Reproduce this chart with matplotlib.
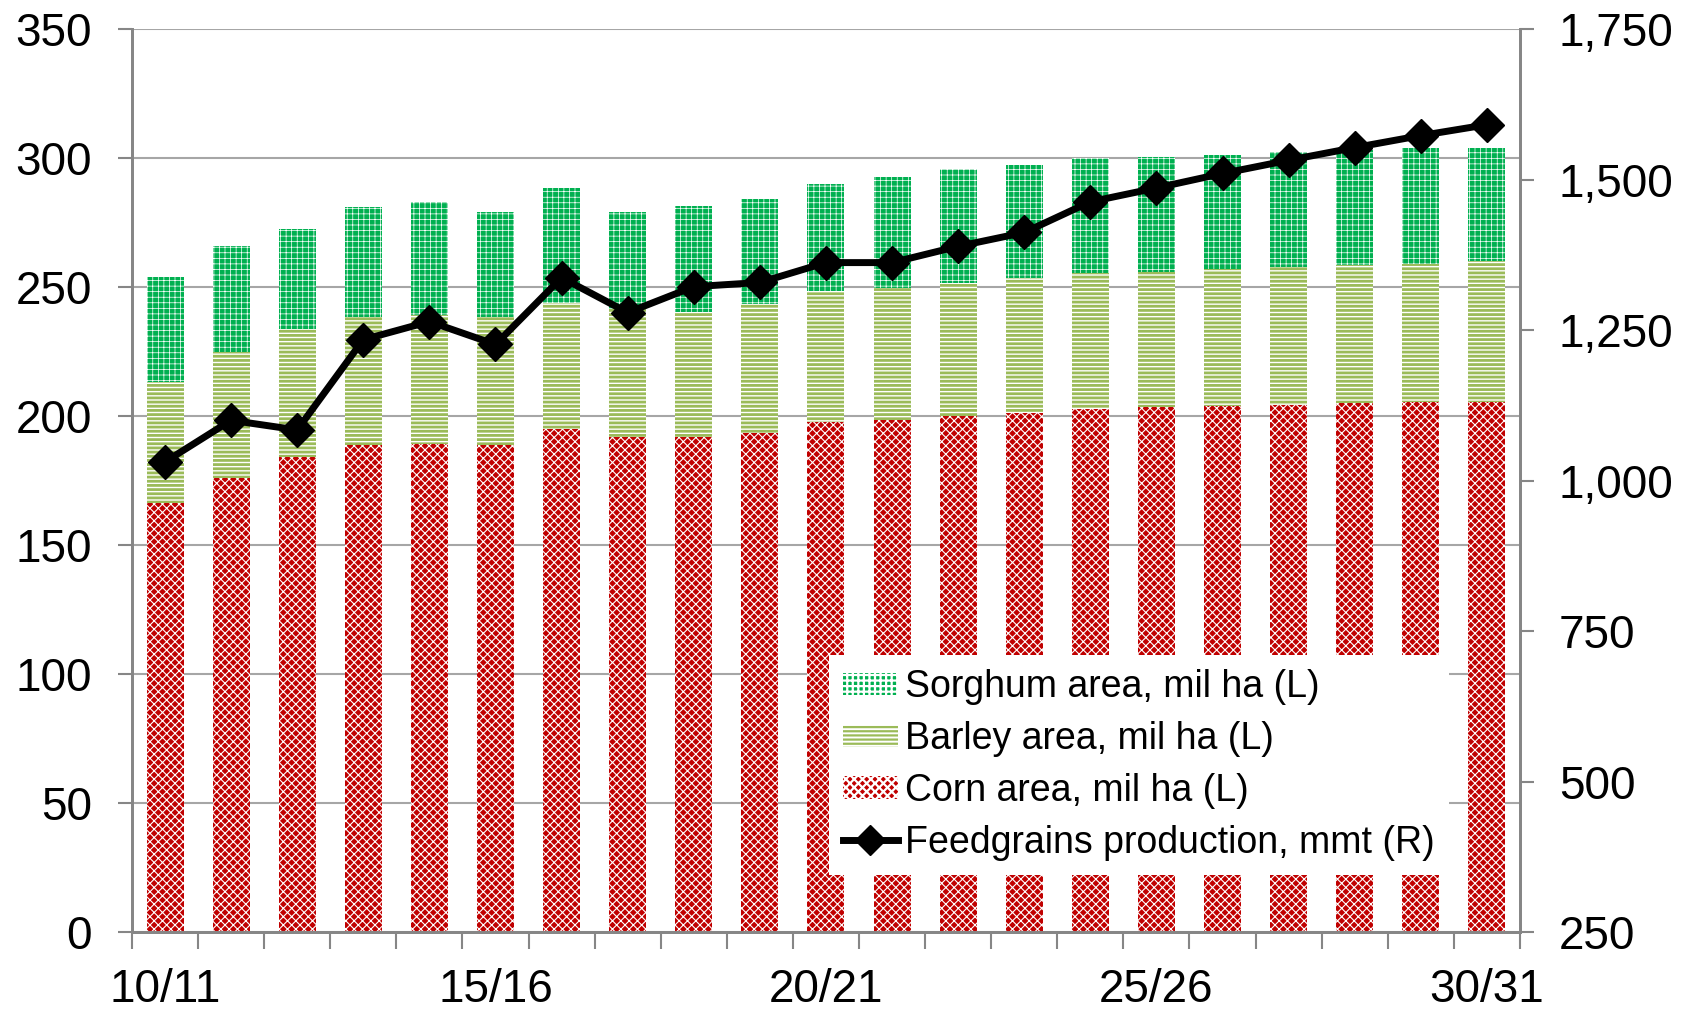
import numpy as np
import matplotlib
matplotlib.use("Agg")
import matplotlib.pyplot as plt
from matplotlib.patches import Patch
from matplotlib.lines import Line2D

plt.rcParams['font.family'] = ['Liberation Sans', 'DejaVu Sans']
plt.rcParams['hatch.linewidth'] = 1.6

# Marketing years 10/11 .. 30/31
years = [f"{y % 100:02d}/{(y + 1) % 100:02d}" for y in range(2010, 2031)]

# Left axis values (mil ha)
corn = [166.4, 176, 184, 188.7, 189, 188.7, 195, 191.7, 192, 193.3, 197.5,
        198.4, 200, 201, 202.6, 203.5, 204, 204.3, 205, 205.5, 205.5]
barley = [46.6, 49, 49.8, 49.7, 50, 49.7, 49, 49.7, 48.5, 50.2, 51,
          51.4, 51.5, 52.6, 52.7, 52.5, 53, 53.5, 53.6, 53.5, 54.5]
sorghum = [41, 40.8, 38.7, 42.6, 44, 40.5, 44.5, 37.5, 40.9, 40.8, 41.3,
           43, 44.2, 43.8, 44.7, 44.3, 44, 44.6, 44.7, 44.7, 44]

# Right axis values (mmt)
production = [1031, 1100, 1084, 1234, 1264, 1226, 1337, 1279, 1322, 1329, 1362,
              1362, 1389, 1412, 1463, 1486, 1510, 1532, 1553, 1573, 1591]

CORN_C = '#C00000'
SORG_C = '#00B050'
BARL_C = '#9BBB59'
AXIS_C = '#868686'


def thin_hatch(patches, lw):
    # fine patterns need their own hatch stroke width
    for p in patches:
        if hasattr(p, 'set_hatch_linewidth'):
            p.set_hatch_linewidth(lw)


x = np.arange(len(years))
corn_a = np.array(corn)
barley_a = np.array(barley)
sorghum_a = np.array(sorghum)

fig = plt.figure(figsize=(17.03, 10.11), dpi=100)
ax = fig.add_axes([0.0775, 0.0781, 0.815, 0.8932])
ax2 = ax.twinx()

w = 0.56
b1 = ax.bar(x, corn_a, w, facecolor=CORN_C, edgecolor='white', linewidth=0, hatch='xxxx')
b2 = ax.bar(x, barley_a, w, bottom=corn_a, facecolor='white', edgecolor=BARL_C,
            linewidth=0, hatch='----')
b3 = ax.bar(x, sorghum_a, w, bottom=corn_a + barley_a, facecolor=SORG_C, edgecolor='white',
            linewidth=0, hatch='+++')
thin_hatch(b1, 0.8)
thin_hatch(b2, 2.0)
thin_hatch(b3, 0.5)

ax2.plot(x, production, color='black', lw=5, marker='D', ms=17)

# left axis
ax.set_xlim(-0.5, len(years) - 0.5)
ax.set_ylim(0, 350)
ax.set_yticks(np.arange(0, 351, 50))
ax.yaxis.grid(True, color='#A6A6A6', lw=1.5)
ax.set_axisbelow(True)
ax.tick_params(axis='y', labelsize=33, length=10, width=1.5, color=AXIS_C, pad=19)

# right axis
ax2.set_ylim(250, 1750)
ax2.set_yticks(np.arange(250, 1751, 250))
ax2.set_yticklabels([f"{v:,}" for v in range(250, 1751, 250)])
ax2.tick_params(axis='y', labelsize=33, length=10, width=1.5, color=AXIS_C, pad=18)

# x axis: ticks between categories, labels every 5th year
ax.set_xticks(np.arange(-0.5, len(years), 1))
ax.set_xticklabels([])
ax.tick_params(axis='x', which='major', length=12, width=1.5, color=AXIS_C)
ax.set_xticks(x[::5], minor=True)
ax.set_xticklabels(years[::5], minor=True)
ax.tick_params(axis='x', which='minor', length=0, labelsize=33, pad=26)

for a in (ax, ax2):
    for s in a.spines.values():
        s.set_color(AXIS_C)
        s.set_linewidth(2)
ax2.spines['top'].set_visible(False)
ax.spines['top'].set_visible(False)

hs = [Patch(facecolor=SORG_C, edgecolor='white', linewidth=0, hatch='+++'),
      Patch(facecolor='white', edgecolor=BARL_C, linewidth=0, hatch='----'),
      Patch(facecolor=CORN_C, edgecolor='white', linewidth=0, hatch='xxxx')]
thin_hatch([hs[0]], 0.5)
thin_hatch([hs[1]], 2.0)
thin_hatch([hs[2]], 0.8)
handles = hs + [Line2D([], [], color='black', lw=5, marker='D', ms=15)]
labels = ['Sorghum area, mil ha (L)', 'Barley area, mil ha (L)',
          'Corn area, mil ha (L)', 'Feedgrains production, mmt (R)']
leg = ax2.legend(handles, labels, loc='upper left', bbox_to_anchor=(0.4868, 0.352),
                 bbox_transform=fig.transFigure, fontsize=27, frameon=True,
                 fancybox=False, edgecolor='none', framealpha=1,
                 handlelength=1.45, handleheight=0.55, handletextpad=0.2,
                 labelspacing=0.42, borderaxespad=0, borderpad=0.38)
leg.set_zorder(10)

fig.savefig('out.png', dpi=100)
